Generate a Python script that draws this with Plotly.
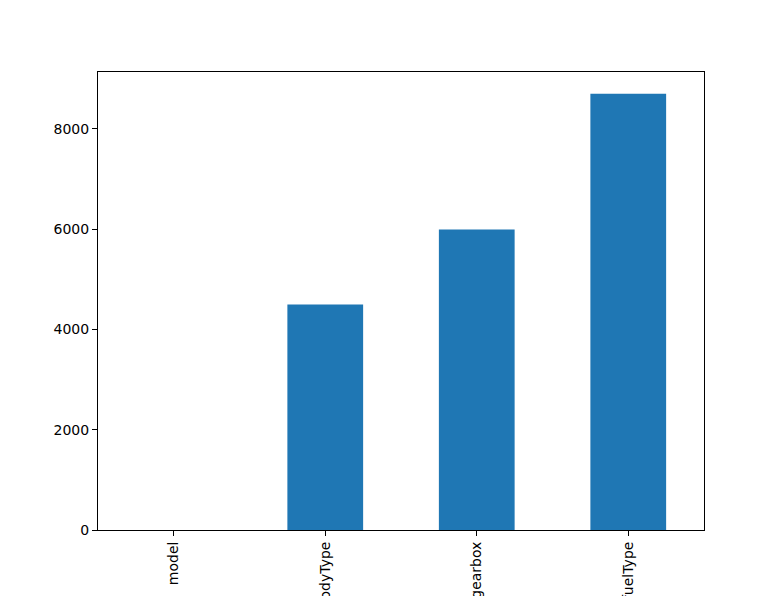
import plotly.graph_objects as go

# Data
columns = ["model", "bodyType", "gearbox", "fuelType"]
counts = [0, 4498, 5990, 8697]

y_ticks = [0, 2000, 4000, 6000, 8000]

# Plot
fig = go.Figure()

fig.add_trace(
    go.Bar(
        x=columns,
        y=counts,
        marker=dict(color="#1f77b4", line=dict(width=0)),
    )
)

# the page adds an 8px body margin, so the margins are shifted by that much
fig.update_layout(
    width=782,
    height=596,
    margin=dict(l=90, r=86, t=64, b=74),
    paper_bgcolor="white",
    plot_bgcolor="white",
    bargap=0.5,
    showlegend=False,
    font=dict(family="DejaVu Sans", size=14, color="black"),
)

fig.update_xaxes(
    type="category",
    range=[-0.5, 3.5],
    tickangle=-90,
    showline=True,
    mirror=True,
    linecolor="black",
    linewidth=1,
    ticks="outside",
    ticklen=5,
    tickcolor="black",
    showgrid=False,
    automargin=False,
)

fig.update_yaxes(
    range=[0, 9132],
    tickvals=y_ticks,
    showline=True,
    mirror=True,
    linecolor="black",
    linewidth=1,
    ticks="outside",
    ticklen=5,
    tickcolor="black",
    showgrid=False,
    zeroline=False,
    automargin=False,
)

fig.write_html("out.html")
